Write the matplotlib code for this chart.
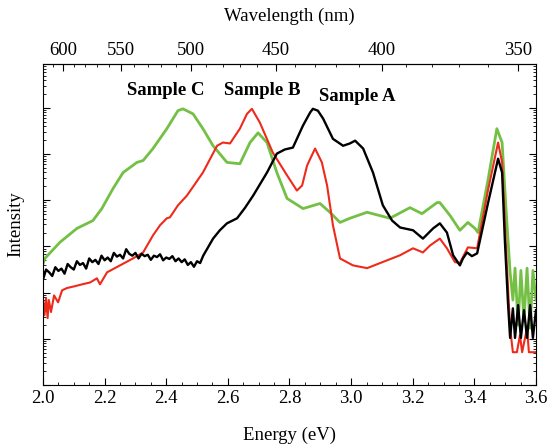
import matplotlib
matplotlib.use("Agg")
import matplotlib.pyplot as plt
import numpy as np

plt.rcParams['font.family'] = ['Liberation Serif', 'DejaVu Serif']

# energy (eV) and log10 intensity, per sample
e_a = [2.00, 2.01, 2.02, 2.03, 2.04, 2.05, 2.06, 2.07, 2.08, 2.09, 2.10, 2.11, 2.12, 2.13,
       2.14, 2.15, 2.16, 2.17, 2.18, 2.19, 2.20, 2.21, 2.22, 2.23, 2.24, 2.25, 2.26, 2.27,
       2.28, 2.29, 2.30, 2.31, 2.32, 2.33, 2.34, 2.35, 2.36, 2.37, 2.38, 2.39, 2.40, 2.41,
       2.42, 2.43, 2.44, 2.45, 2.46, 2.47, 2.48, 2.49, 2.50, 2.51, 2.52,
       2.552, 2.574, 2.597, 2.630, 2.656, 2.682, 2.727, 2.759, 2.785, 2.811, 2.844, 2.867,
       2.876, 2.892, 2.909, 2.941, 2.974, 2.996, 3.013, 3.039, 3.071, 3.103, 3.133, 3.159,
       3.201, 3.233, 3.266, 3.288, 3.311, 3.331, 3.353, 3.363, 3.376, 3.392, 3.409, 3.444,
       3.477, 3.490, 3.499, 3.509, 3.516, 3.525, 3.532, 3.542, 3.551, 3.561, 3.571, 3.581,
       3.590, 3.600]
log_a = [2.28, 2.50, 2.44, 2.36, 2.55, 2.47, 2.52, 2.41, 2.62, 2.55, 2.50, 2.68, 2.60, 2.64,
         2.52, 2.74, 2.66, 2.71, 2.62, 2.80, 2.70, 2.76, 2.68, 2.86, 2.78, 2.82, 2.74, 2.94,
         2.84, 2.80, 2.86, 2.74, 2.84, 2.79, 2.82, 2.71, 2.80, 2.77, 2.83, 2.70, 2.76, 2.73,
         2.79, 2.68, 2.74, 2.66, 2.72, 2.60, 2.66, 2.56, 2.68, 2.64, 2.80,
         3.17, 3.35, 3.50, 3.61, 3.84, 4.10, 4.60, 5.01, 5.10, 5.14, 5.62, 5.90,
         5.98, 5.94, 5.77, 5.33, 5.18, 5.23, 5.29, 5.12, 4.60, 3.89, 3.56, 3.41,
         3.35, 3.17, 3.39, 3.50, 3.30, 2.81, 2.59, 2.74, 2.87, 2.79, 2.85, 3.93,
         4.90, 4.60, 3.13, 1.79, 1.02, 1.66, 1.02, 1.73, 1.02, 1.62, 1.02, 1.73,
         1.02, 1.62]

e_b = [2.000, 2.005, 2.010, 2.015, 2.019, 2.026, 2.036, 2.049, 2.062, 2.078, 2.104, 2.127,
       2.153, 2.175, 2.185, 2.208, 2.250, 2.292, 2.325, 2.357, 2.380, 2.402, 2.412, 2.438,
       2.467, 2.519, 2.565, 2.584, 2.607, 2.639, 2.662, 2.678, 2.704, 2.746, 2.792, 2.824,
       2.841, 2.857, 2.883, 2.905, 2.922, 2.941, 2.964, 3.006, 3.052, 3.094, 3.159, 3.201,
       3.233, 3.256, 3.288, 3.311, 3.337, 3.353, 3.379, 3.409, 3.444, 3.477, 3.490, 3.503,
       3.516, 3.525, 3.538, 3.548, 3.555, 3.571, 3.577, 3.600]
log_b = [1.84, 1.51, 1.88, 1.45, 1.84, 1.58, 1.94, 1.79, 2.05, 2.10, 2.14, 2.18,
         2.22, 2.31, 2.18, 2.44, 2.59, 2.74, 2.87, 3.24, 3.46, 3.61, 3.63, 3.89,
         4.10, 4.60, 5.18, 5.25, 5.23, 5.55, 5.87, 5.98, 5.68, 5.03, 4.54, 4.21,
         4.32, 4.75, 5.12, 4.82, 4.32, 3.46, 2.74, 2.59, 2.53, 2.64, 2.81, 2.96,
         2.87, 3.02, 3.17, 2.96, 2.66, 2.64, 2.98, 2.96, 4.21, 5.25, 4.82, 2.92,
         1.23, 0.71, 0.71, 1.08, 0.71, 1.23, 0.71, 0.71]

e_c = [2.000, 2.006, 2.055, 2.110, 2.162, 2.191, 2.227, 2.260, 2.305, 2.325, 2.357, 2.402,
       2.438, 2.454, 2.487, 2.519, 2.552, 2.597, 2.639, 2.672, 2.698, 2.727, 2.759, 2.792,
       2.844, 2.899, 2.931, 2.964, 2.996, 3.052, 3.126, 3.191, 3.230, 3.279, 3.288, 3.321,
       3.353, 3.379, 3.402, 3.412, 3.444, 3.473, 3.490, 3.503, 3.516, 3.525, 3.532, 3.542,
       3.551, 3.561, 3.571, 3.581, 3.590, 3.600]
log_c = [2.62, 2.74, 3.09, 3.39, 3.56, 3.82, 4.25, 4.60, 4.82, 4.86, 5.12, 5.55,
         5.94, 5.98, 5.87, 5.55, 5.18, 4.82, 4.79, 5.25, 5.46, 5.25, 4.60, 4.04,
         3.82, 3.93, 3.74, 3.52, 3.61, 3.74, 3.61, 3.84, 3.71, 3.95, 3.95, 3.67,
         3.35, 3.52, 3.39, 3.30, 4.43, 5.55, 5.25, 3.78, 2.44, 1.84, 2.53, 1.30,
         2.48, 1.40, 2.53, 1.23, 2.48, 1.84]

wl_ticks = [600, 550, 500, 450, 400, 350]
hc = 1239.84

fig = plt.figure(figsize=(5.49, 4.47), dpi=100)
ax = fig.add_axes([0.0783, 0.1387, 0.8980, 0.7181])

ax.plot(e_c, 10 ** np.array(log_c), color='#74c045', lw=2.0)
ax.plot(e_b, 10 ** np.array(log_b), color='#ee2a1b', lw=1.5)
ax.plot(e_a, 10 ** np.array(log_a), color='black', lw=1.7)

ax.set_yscale('log')
ax.set_xlim(2.0, 3.6)
ax.set_ylim(1, 10 ** 6.95)
ax.set_xticks(np.arange(2.0, 3.61, 0.2))
ax.set_xticks(np.arange(2.0, 3.61, 0.05), minor=True)
ax.set_yticklabels([], minor=True)
ax.set_yticklabels([])
ax.tick_params(which='both', direction='in', top=False, right=True, labelsize=13.5)
ax.tick_params(which='major', length=5)
ax.tick_params(which='minor', length=2.5)

sec = ax.secondary_xaxis('top', functions=(lambda e: hc / e, lambda w: hc / w))
sec.set_xticks(wl_ticks)
sec.set_xticks(np.arange(350, 621, 10), minor=True)
sec.tick_params(which='both', direction='in', labelsize=13.5)
sec.tick_params(which='major', length=5)
sec.tick_params(which='minor', length=2.5)
sec.set_xlabel('Wavelength (nm)', fontsize=13.5, labelpad=15)

ax.set_xlabel('Energy (eV)', fontsize=13.5, labelpad=14)
ax.set_ylabel('Intensity', fontsize=13.5, labelpad=10)

ax.text(2.40, 10 ** 6.37, 'Sample C', fontsize=13.5, fontweight='bold', ha='center', va='center')
ax.text(2.71, 10 ** 6.37, 'Sample B', fontsize=13.5, fontweight='bold', ha='center', va='center')
ax.text(3.02, 10 ** 6.24, 'Sample A', fontsize=13.5, fontweight='bold', ha='center', va='center')

fig.savefig('out.png', dpi=100)
